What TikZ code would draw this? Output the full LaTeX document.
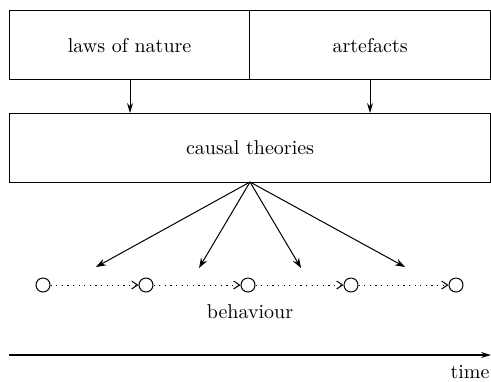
\documentclass[tikz,border=0pt]{standalone}
\usetikzlibrary{arrows.meta}
\begin{document}
\begin{tikzpicture}[x=0.5pt,y=-0.5pt,
  box/.style={draw,line width=0.6pt,minimum height=34.5pt,inner sep=0pt},
  lbl/.style={font=\fontsize{10}{12}\selectfont},
  state/.style={draw,circle,minimum size=7pt,inner sep=0pt,line width=0.5pt},
  cause/.style={line width=0.5pt,-{Stealth[length=5pt,width=3.5pt]}},
  down/.style={line width=0.5pt,-{Stealth[length=5pt,width=3pt]}},
  next/.style={dash pattern=on 0.6pt off 2.2pt,line width=0.4pt,-{Straight Barb[length=3pt,width=4pt,line width=0.5pt]}},
  axis/.style={line width=0.6pt,-{Stealth[length=5pt,width=3pt]}}]
\useasboundingbox (0,0) rectangle (491,381);
\node[box,minimum width=120pt,anchor=north west] (laws) at (9,10) {};
\node[lbl] at (laws.center) {laws of nature};
\node[box,minimum width=120.5pt,anchor=north west] (art) at (249,10) {};
\node[lbl] at (art.center) {artefacts};
\node[box,minimum width=240.5pt,anchor=north west] (causal) at (9,113) {};
\node[lbl] at (causal.center) {causal theories};
\draw[down] (130,79) -- (130,113);
\draw[down] (370,79) -- (370,113);
\coordinate (apex) at (250,182);
\coordinate (t1) at (96,267);
\coordinate (t2) at (199,268);
\coordinate (t3) at (301,268);
\coordinate (t4) at (405,267);
\foreach \t in {t1,t2,t3,t4} \draw[cause] (apex) -- (\t);
\node[state] (s1) at (43,285) {};
\node[state] (s2) at (146,285) {};
\node[state] (s3) at (248,285) {};
\node[state] (s4) at (351,285) {};
\node[state] (s5) at (456,285) {};
\draw[next] (s1) -- (s2);
\draw[next] (s2) -- (s3);
\draw[next] (s3) -- (s4);
\draw[next] (s4) -- (s5);
\node[lbl] (beh) at (250,312) {behaviour};
\coordinate (a0) at (9,355);
\coordinate (a1) at (491,355);
\draw[axis] (a0) -- (a1);
\node[lbl] (time) at (470,372) {time};
\end{tikzpicture}
\end{document}
